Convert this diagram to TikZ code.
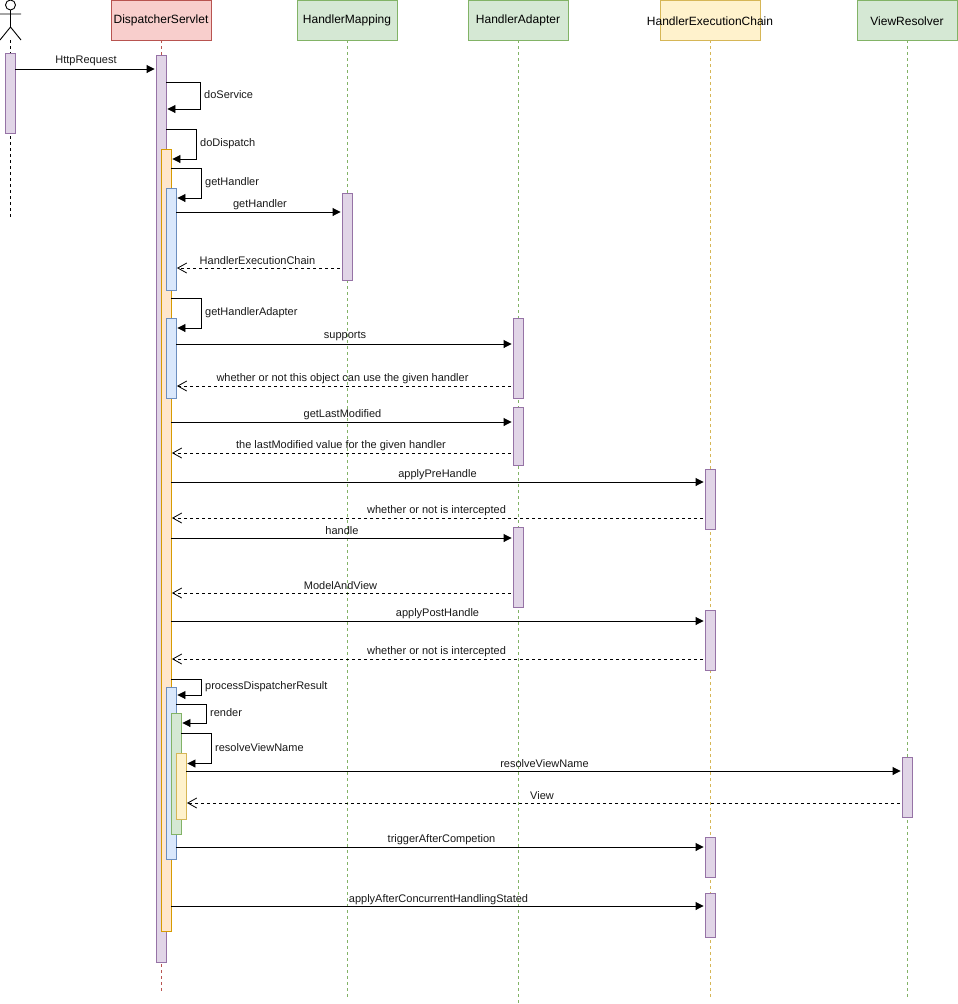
\documentclass[tikz,border=0pt]{standalone}
\usepackage{fontspec}
\setmainfont{Liberation Sans}
\usetikzlibrary{arrows.meta}
\definecolor{purF}{HTML}{E1D5E7}\definecolor{purD}{HTML}{9673A6}
\definecolor{redF}{HTML}{F8CECC}\definecolor{redD}{HTML}{B85450}
\definecolor{grnF}{HTML}{D5E8D4}\definecolor{grnD}{HTML}{82B366}
\definecolor{yelF}{HTML}{FFF2CC}\definecolor{yelD}{HTML}{D6B656}
\definecolor{orgF}{HTML}{FFE6CC}\definecolor{orgD}{HTML}{D79B00}
\definecolor{bluF}{HTML}{DAE8FC}\definecolor{bluD}{HTML}{6C8EBF}
\tikzset{
  head/.style={draw=#1D,fill=#1F,line width=0.9pt,minimum width=100pt,minimum height=40pt,inner sep=0pt},
  headtext/.style={font=\fontsize{12}{14}\selectfont,text=black,inner sep=0pt,yshift=-0.8pt},
  bar/.style={draw=#1D,fill=#1F,line width=0.9pt,minimum width=10pt,inner sep=0pt},
  life/.style={draw=#1D,line width=0.8pt,dash pattern=on 3pt off 3pt},
  call/.style={draw=black,line width=0.9pt,-{Triangle[length=8pt,width=8pt]},shorten >=1pt},
  ret/.style={draw=black,line width=0.8pt,dash pattern=on 3pt off 3pt,-{Straight Barb[length=9pt,width=10pt]},shorten >=0.5pt,shorten <=1.5pt},
  lbl/.style={font=\fontsize{11}{13}\selectfont,inner sep=0pt,text=black!90,yshift=-1.3pt},
  llbl/.style={lbl,anchor=west},
}
\newcommand{\actbar}[5]{\node[bar=#2,minimum height={(#5)-(#4)}] (#1) at (#3,{((#4)+(#5))/2}) {};}
\begin{document}
\begin{tikzpicture}[x=1pt,y=-1pt]
\useasboundingbox (0,0) rectangle (958,1004);
\fill[white] (0,0) rectangle (958,1004);
% headers
\node[head=red] (ds) at (161,20) {};
\node[head=grn] (hm) at (347,20) {};
\node[head=grn] (ha) at (518,20) {};
\node[head=yel] (hec) at (710,20) {};
\node[head=grn] (vr) at (907,20) {};
\node[headtext] (dst) at (161,20) {DispatcherServlet};
\node[headtext] (hmt) at (347,20) {HandlerMapping};
\node[headtext] (hat) at (518,20) {HandlerAdapter};
\node[headtext] (hect) at (710,20) {HandlerExecutionChain};
\node[headtext] (vrt) at (907,20) {ViewResolver};
% lifeline ends
\coordinate (dsend) at (161,992);
\coordinate (hmend) at (347,998);
\coordinate (haend) at (518,1003);
\coordinate (hecend) at (710,998);
\coordinate (vrend) at (907,998);
\coordinate (acttop) at (10.5,40);
\coordinate (actend) at (10.5,217);
\draw[life=red] (ds.south) -- (dsend);
\draw[life=grn] (hm.south) -- (hmend);
\draw[life=grn] (ha.south) -- (haend);
\draw[life=yel] (hec.south) -- (hecend);
\draw[life=grn] (vr.south) -- (vrend);
\draw[draw=black,line width=0.8pt,dash pattern=on 3pt off 3pt] (acttop) -- (actend);
% actor
\begin{scope}[draw=black,line width=0.9pt]
\clip (-1,0) rectangle (30,45);
\draw[fill=white] (10.5,5) circle (5);
\draw (10.5,10) -- (10.5,27) (0,14) -- (21,14) (10.5,27) -- (0,40) (10.5,27) -- (21,40);
\end{scope}
% activation bars
\actbar{u1}{pur}{10}{53}{133}
\actbar{m}{pur}{161}{55}{962}
\actbar{o}{org}{166}{149}{931}
\actbar{b1}{blu}{171}{188}{290}
\actbar{b2}{blu}{171}{318}{398}
\actbar{b3}{blu}{171}{687}{859}
\actbar{g}{grn}{176}{713}{834}
\actbar{y}{yel}{181}{753}{819}
\actbar{hm1}{pur}{347}{193}{280}
\actbar{ha1}{pur}{518}{318}{398}
\actbar{ha2}{pur}{518}{407}{465}
\actbar{ha3}{pur}{518}{527}{607}
\actbar{he1}{pur}{710}{469}{529}
\actbar{he2}{pur}{710}{610}{670}
\actbar{he3}{pur}{710}{837}{877}
\actbar{he4}{pur}{710}{893}{937}
\actbar{vr1}{pur}{907}{757}{817}
% self calls
\draw[call] (m.east |- 0,82) -- ++(34,0) |- (m.east |- 0,109);
\draw[call] (m.east |- 0,129) -- ++(30,0) |- (o.east |- 0,159);
\draw[call] (o.east |- 0,168) -- ++(30,0) |- (b1.east |- 0,198);
\draw[call] (o.east |- 0,298) -- ++(30,0) |- (b2.east |- 0,328);
\draw[call] (o.east |- 0,679) -- ++(30,0) |- (b3.east |- 0,695);
\draw[call] (b3.east |- 0,704) -- ++(30,0) |- (g.east |- 0,723);
\draw[call] (g.east |- 0,733) -- ++(30,0) |- (y.east |- 0,763.5);
% messages
\draw[call] (u1.east |- 0,69) -- (m.west |- 0,69);
\draw[call] (b1.east |- 0,212) -- (hm1.west |- 0,212);
\draw[ret] (hm1.west |- 0,268) -- (b1.east |- 0,268);
\draw[call] (b2.east |- 0,344) -- (ha1.west |- 0,344);
\draw[ret] (ha1.west |- 0,386) -- (b2.east |- 0,386);
\draw[call] (o.east |- 0,422) -- (ha2.west |- 0,422);
\draw[ret] (ha2.west |- 0,453) -- (o.east |- 0,453);
\draw[call] (o.east |- 0,482) -- (he1.west |- 0,482);
\draw[ret] (he1.west |- 0,518) -- (o.east |- 0,518);
\draw[call] (o.east |- 0,538) -- (ha3.west |- 0,538);
\draw[ret] (ha3.west |- 0,593) -- (o.east |- 0,593);
\draw[call] (o.east |- 0,621) -- (he2.west |- 0,621);
\draw[ret] (he2.west |- 0,659) -- (o.east |- 0,659);
\draw[call] (y.east |- 0,771) -- (vr1.west |- 0,771);
\draw[ret] (vr1.west |- 0,803) -- (y.east |- 0,803);
\draw[call] (b3.east |- 0,847) -- (he3.west |- 0,847);
\draw[call] (o.east |- 0,906) -- (he4.west |- 0,906);
% labels
\node[lbl] (l1) at (86,60) {HttpRequest};
\node[llbl] (l2) at (204,93) {doService};
\node[llbl] (l3) at (200,142) {doDispatch};
\node[llbl] (l4) at (205,181) {getHandler};
\node[lbl] (l5) at (260,203) {getHandler};
\node[lbl] (l6) at (257.5,259) {HandlerExecutionChain};
\node[llbl] (l7) at (205,311) {getHandlerAdapter};
\node[lbl] (l8) at (345,335) {supports};
\node[lbl] (l9) at (342.5,377) {whether or not this object can use the given handler};
\node[lbl] (l10) at (342.5,413) {getLastModified};
\node[lbl] (l11) at (341,444) {the lastModified value for the given handler};
\node[lbl] (l12) at (437.5,473) {applyPreHandle};
\node[lbl] (l13) at (436.5,509) {whether or not is intercepted};
\node[lbl] (l14) at (342,529) {handle};
\node[lbl] (l15) at (340.5,584) {ModelAndView};
\node[lbl] (l16) at (437.5,612) {applyPostHandle};
\node[lbl] (l17) at (436.5,650) {whether or not is intercepted};
\node[llbl] (l18) at (205,685) {processDispatcherResult};
\node[llbl] (l19) at (210,711) {render};
\node[llbl] (l20) at (215,746) {resolveViewName};
\node[lbl] (l21) at (544.5,762) {resolveViewName};
\node[lbl] (l22) at (542,794) {View};
\node[lbl] (l23) at (441.5,838) {triggerAfterCompetion};
\node[lbl] (l24) at (438.5,898) {applyAfterConcurrentHandlingStated};
\end{tikzpicture}
\end{document}
